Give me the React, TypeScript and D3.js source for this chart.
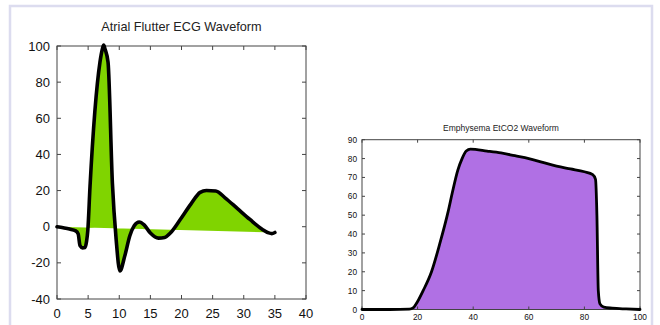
import React from "react";
import * as d3 from "d3";

// ECG waveform (x, y)
const ecgX = [0, 1, 2, 3, 3.4, 3.7, 4.1, 4.5, 4.75, 4.95, 5.3, 6.9, 7.3, 7.5, 7.7, 8.2, 8.9, 9.5, 10.1, 10.9, 11.7, 12.4, 13.2, 14, 15, 16.3, 17.3, 18.2, 19.8, 21.5, 23, 24, 25.5, 27, 29, 31, 33, 34, 34.5, 35];
const ecgY = [0, -0.6, -1.3, -2.3, -4, -10.5, -11.7, -11.5, -8, -2, 22, 91, 98.5, 100.5, 98.5, 91, 24, -7, -24.5, -16, -5, 0.5, 2.6, 1, -3.5, -6.3, -6, -3.5, 4, 12.5, 19, 20, 19.8, 16, 10, 4, -1.5, -3.4, -3.8, -3.2];
const ecgXTicks = [0, 5, 10, 15, 20, 25, 30, 35, 40];
const ecgYTicks = [-40, -20, 0, 20, 40, 60, 80, 100];

// EtCO2 waveform (x, y)
const co2X = [0, 10, 17, 18.5, 19.5, 22, 25, 28, 31, 32.5, 34.5, 36, 37.5, 39, 45, 50, 55, 60, 65, 70, 75, 80, 83, 84, 84.5, 85, 85.6, 87, 90, 95, 100];
const co2Y = [0, 0, 0.2, 1, 3, 10, 20, 35, 52, 62, 74, 80, 84, 85, 84, 83, 81.5, 80, 78, 76, 74.5, 73, 71.5, 69, 50, 10, 3, 1.2, 0.7, 0.3, 0];
const co2XTicks = [0, 20, 40, 60, 80, 100];
const co2YTicks = [0, 10, 20, 30, 40, 50, 60, 70, 80, 90];

type PanelProps = {
  xs: number[]; ys: number[];
  xDomain: [number, number]; yDomain: [number, number];
  xTicks: number[]; yTicks: number[];
  left: number; right: number; top: number; bottom: number;
  title: string; titleY: number; titleSize: number;
  fontSize: number; fill: string; strokeW: number; tickLen: number;
  yLabelGap: number; xLabelY: number;
};

function Panel(p: PanelProps) {
  const x = d3.scaleLinear().domain(p.xDomain).range([p.left, p.right]);
  const y = d3.scaleLinear().domain(p.yDomain).range([p.bottom, p.top]);
  const pts: [number, number][] = p.xs.map((v, i) => [v, p.ys[i]]);
  const line = d3.line<[number, number]>().x(d => x(d[0])).y(d => y(d[1])).curve(d3.curveMonotoneX);
  const path = line(pts) || "";
  const font = "'Liberation Sans', Arial, Helvetica, sans-serif";
  const t = p.tickLen;
  return (
    <g>
      <text x={(p.left + p.right) / 2} y={p.titleY} textAnchor="middle" dominantBaseline="central" fontFamily={font} fontSize={p.titleSize} fill="#222">{p.title}</text>
      <path d={path + "Z"} fill={p.fill} stroke="none" />
      <rect x={p.left} y={p.top} width={p.right - p.left} height={p.bottom - p.top} fill="none" stroke="#444" strokeWidth={1} />
      {p.xTicks.map(v => (
        <g key={"x" + v}>
          <line x1={x(v)} x2={x(v)} y1={p.bottom} y2={p.bottom - t} stroke="#444" />
          <line x1={x(v)} x2={x(v)} y1={p.top} y2={p.top + t} stroke="#444" />
          <text x={x(v)} y={p.xLabelY} textAnchor="middle" dominantBaseline="central" fontFamily={font} fontSize={p.fontSize} fill="#111">{v}</text>
        </g>
      ))}
      {p.yTicks.map(v => (
        <g key={"y" + v}>
          <line x1={p.left} x2={p.left + t} y1={y(v)} y2={y(v)} stroke="#444" />
          <line x1={p.right} x2={p.right - t} y1={y(v)} y2={y(v)} stroke="#444" />
          <text x={p.left - p.yLabelGap} y={y(v)} textAnchor="end" dominantBaseline="central" fontFamily={font} fontSize={p.fontSize} fill="#111">{v}</text>
        </g>
      ))}
      <path d={path} fill="none" stroke="#000" strokeWidth={p.strokeW} strokeLinejoin="round" strokeLinecap="round" />
    </g>
  );
}

export default function App() {
  return (
    <svg width={660} height={325} style={{ position: "absolute", left: 0, top: 0, background: "#fff" }}>
      <rect x={0} y={0} width={660} height={325} fill="#fff" />
      <path d="M10,330 L10,6 L652,6 L652,330" fill="none" stroke="#dcdcef" strokeWidth={2.5} />
      <Panel xs={ecgX} ys={ecgY} xDomain={[0, 40]} yDomain={[-40, 100]}
        xTicks={ecgXTicks} yTicks={ecgYTicks}
        left={57} right={306} top={46} bottom={299}
        title="Atrial Flutter ECG Waveform" titleY={27} titleSize={12.7}
        fontSize={13} fill="#80d400" strokeW={3.6} tickLen={4}
        yLabelGap={7} xLabelY={313} />
      <Panel xs={co2X} ys={co2Y} xDomain={[0, 100]} yDomain={[0, 90]}
        xTicks={co2XTicks} yTicks={co2YTicks}
        left={362} right={640} top={139.7} bottom={309.5}
        title="Emphysema EtCO2 Waveform" titleY={127.5} titleSize={8.5}
        fontSize={8.3} fill="#b070e4" strokeW={2.8} tickLen={3}
        yLabelGap={5} xLabelY={317} />
    </svg>
  );
}
